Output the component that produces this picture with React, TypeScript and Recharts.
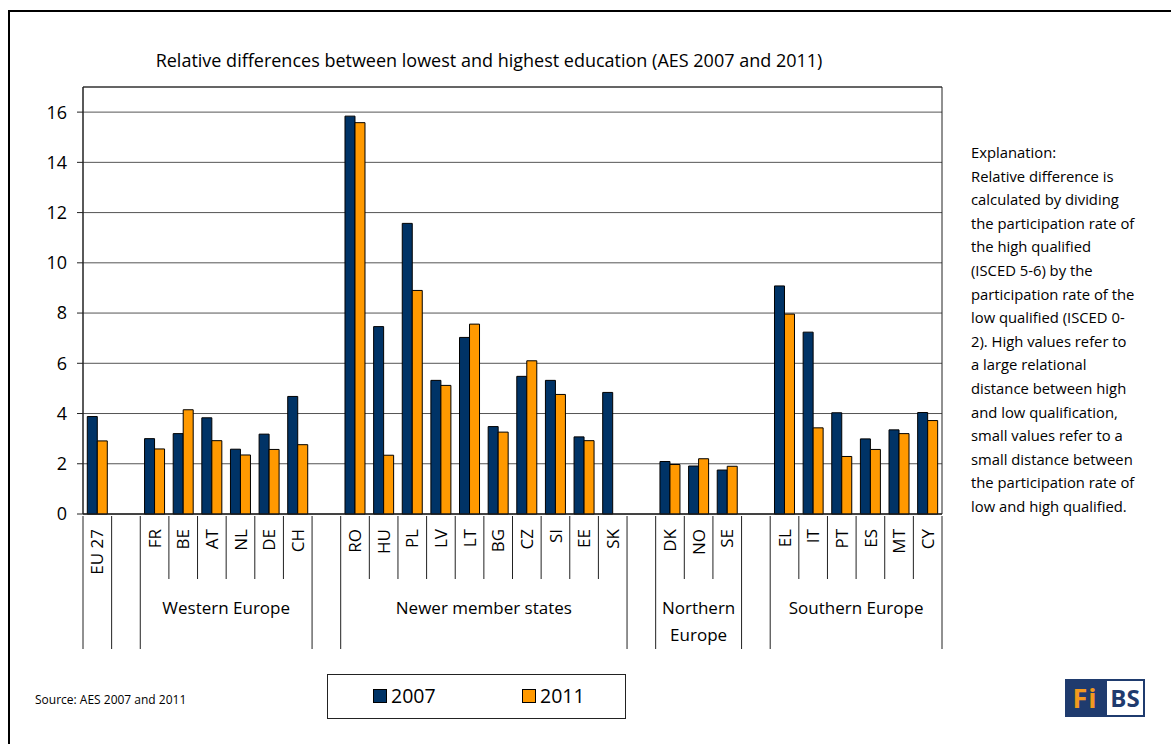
import React from "react";
import { Bar, BarChart, CartesianGrid, ReferenceArea, XAxis, YAxis } from "recharts";

// Country codes per slot; empty strings are spacer slots between regions.
const countries = [
  "EU 27", "",
  "FR", "BE", "AT", "NL", "DE", "CH", "",
  "RO", "HU", "PL", "LV", "LT", "BG", "CZ", "SI", "EE", "SK", "",
  "DK", "NO", "SE", "",
  "EL", "IT", "PT", "ES", "MT", "CY",
];

const values2007 = [
  3.88, null,
  3.0, 3.2, 3.83, 2.58, 3.18, 4.68, null,
  15.84, 7.46, 11.57, 5.32, 7.03, 3.48, 5.48, 5.32, 3.07, 4.84, null,
  2.09, 1.91, 1.75, null,
  9.08, 7.24, 4.03, 2.99, 3.35, 4.04,
];

const values2011 = [
  2.91, null,
  2.59, 4.15, 2.92, 2.35, 2.57, 2.76, null,
  15.58, 2.34, 8.9, 5.12, 7.56, 3.26, 6.1, 4.76, 2.92, null, null,
  1.97, 2.2, 1.9, null,
  7.96, 3.43, 2.29, 2.57, 3.2, 3.72,
];

const regions = [
  { first: "FR", size: 6, label: ["Western Europe"] },
  { first: "RO", size: 10, label: ["Newer member states"] },
  { first: "DK", size: 3, label: ["Northern", "Europe"] },
  { first: "EL", size: 6, label: ["Southern Europe"] },
];

const yTicks = [0, 2, 4, 6, 8, 10, 12, 14, 16];
const yMax = 17;

const seriesNames = ["2007", "2011"];
const seriesColors = ["#003366", "#FF9900"];

const explanation = [
  "Explanation:",
  "Relative difference is",
  "calculated by dividing",
  "the participation rate of",
  "the high qualified",
  "(ISCED 5-6) by the",
  "participation rate of the",
  "low qualified (ISCED 0-",
  "2). High values refer to",
  "a large relational",
  "distance between high",
  "and low qualification,",
  "small values refer to a",
  "small distance between",
  "the participation rate of",
  "low and high qualified.",
];

const data = countries.map((code, i) => ({
  slot: `s${i}`,
  code,
  y2007: values2007[i],
  y2011: values2011[i],
}));

const W = 1171;
const H = 744;
const FONT = "'Open Sans', 'DejaVu Sans', sans-serif";
const margin = { top: 87, right: 229, bottom: 80, left: 23 };
const yAxisWidth = 60;
const plotWidth = W - margin.left - margin.right - yAxisWidth;
const slotWidth = plotWidth / countries.length;

function CountryTick(props: any) {
  const { x, y, payload } = props;
  const i = payload.index;
  const code = countries[i];
  const isGap = (k: number) => k < 0 || k >= countries.length || countries[k] === "";
  const left = x - slotWidth / 2;
  const right = x + slotWidth / 2;
  const leftLong = i === 0 || isGap(i) || isGap(i - 1);
  const region = regions.find((r) => r.first === code);
  return (
    <g>
      <line x1={left} x2={left} y1={y} y2={y + (leftLong ? 133 : 63)} stroke="#222" strokeWidth={1} />
      {i === countries.length - 1 && (
        <line x1={right} x2={right} y1={y} y2={y + 133} stroke="#222" strokeWidth={1} />
      )}
      {code && (
        <text
          x={x}
          y={y + 13}
          transform={`rotate(-90, ${x}, ${y + 13})`}
          textAnchor="end"
          dy="0.36em"
          fontSize={17}
          fontFamily={FONT}
          fill="#000"
        >
          {code}
        </text>
      )}
      {region &&
        region.label.map((line, k) => (
          <text
            key={k}
            x={left + (region.size * slotWidth) / 2}
            y={y + 92 + k * 27}
            textAnchor="middle"
            dy="0.36em"
            fontSize={17}
            fontFamily={FONT}
            fill="#000"
          >
            {line}
          </text>
        ))}
    </g>
  );
}

export default function App() {
  return (
    <div style={{ position: "absolute", left: 0, top: 0, width: W, height: H, background: "#fff", overflow: "hidden", fontFamily: FONT }}>
      <div style={{ position: "absolute", left: 8, top: 10, width: W, height: H, borderTop: "2px solid #000", borderLeft: "2px solid #000" }} />
      <div style={{ position: "absolute", left: 0, top: 48, width: 978, textAlign: "center", fontSize: 18, color: "#000" }}>
        Relative differences between lowest and highest education (AES 2007 and 2011)
      </div>
      <BarChart
        width={W}
        height={H}
        data={data}
        margin={margin}
        barCategoryGap="15%"
        barGap={0}
        style={{ position: "absolute", left: 0, top: 0 }}
      >
        <CartesianGrid vertical={false} stroke="#555" strokeWidth={1} />
        <ReferenceArea y1={0} y2={yMax} fill="none" stroke="#222" strokeWidth={1} ifOverflow="visible" />
        <XAxis
          dataKey="slot"
          interval={0}
          tickSize={0}
          tickLine={false}
          height={150}
          axisLine={{ stroke: "#222" }}
          tick={<CountryTick />}
        />
        <YAxis
          domain={[0, yMax]}
          ticks={yTicks}
          width={yAxisWidth}
          tickSize={6}
          tickMargin={10}
          axisLine={{ stroke: "#222" }}
          tickLine={{ stroke: "#222" }}
          tick={{ fontSize: 18, fill: "#000", fontFamily: FONT }}
        />
        <Bar dataKey="y2007" name={seriesNames[0]} fill={seriesColors[0]} stroke="#000" strokeWidth={1} isAnimationActive={false} />
        <Bar dataKey="y2011" name={seriesNames[1]} fill={seriesColors[1]} stroke="#000" strokeWidth={1} isAnimationActive={false} />
      </BarChart>
      <div style={{ position: "absolute", left: 971, top: 141, fontSize: 14.8, lineHeight: "23.6px", color: "#000", whiteSpace: "pre" }}>
        {explanation.map((line, i) => (
          <div key={i}>{line}</div>
        ))}
      </div>
      <div style={{ position: "absolute", left: 35, top: 691, fontSize: 12, color: "#000" }}>Source: AES 2007 and 2011</div>
      <div
        style={{
          position: "absolute",
          left: 327,
          top: 674,
          width: 297,
          height: 43,
          border: "1px solid #222",
        }}
      >
        {seriesNames.map((name, i) => (
          <div key={name} style={{ position: "absolute", left: 45 + i * 149, top: 8, display: "flex", alignItems: "center" }}>
            <span style={{ width: 12, height: 12, background: seriesColors[i], border: "1px solid #000", marginRight: 4 }} />
            <span style={{ fontSize: 19.5, lineHeight: "26px" }}>{name}</span>
          </div>
        ))}
      </div>
      <div style={{ position: "absolute", left: 1065, top: 679, height: 38, display: "flex" }}>
        <div style={{ width: 40, height: 38, background: "#1F3B6E", color: "#F39A1E", fontWeight: 700, fontSize: 27, lineHeight: "38px", textAlign: "center", letterSpacing: 1 }}>
          Fi
        </div>
        <div style={{ width: 36, height: 34, border: "2px solid #1F3B6E", background: "#fff", color: "#1F3B6E", fontWeight: 700, fontSize: 24, lineHeight: "34px", textAlign: "center" }}>
          BS
        </div>
      </div>
    </div>
  );
}
